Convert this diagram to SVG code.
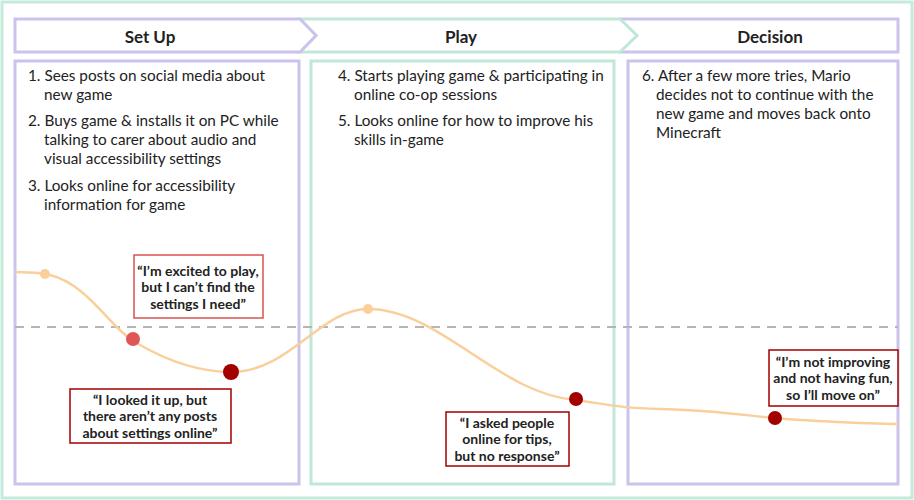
<svg xmlns="http://www.w3.org/2000/svg" width="914" height="500" viewBox="0 0 914 500">
<style>
text{font-family:Lato,"Liberation Sans",sans-serif;fill:#222}
.h{font-size:17px;font-weight:bold;text-anchor:middle}
.t{font-size:15.3px}
.q{font-size:14px;font-weight:bold;text-anchor:middle}
.pu{fill:#fff;stroke:#c9c3ee;stroke-width:3}
.gr{fill:#fff;stroke:#bfe8d8;stroke-width:3}
.qb{fill:#fff;stroke-width:1.5}
</style>
<rect x="0" y="0" width="914" height="500" fill="#fff"/>
<rect x="2" y="2" width="910" height="496" fill="none" stroke="#c3eadb" stroke-width="3"/>
<g id="hdr-decision"><rect class="pu" x="620" y="19" width="278" height="33"/><text class="h" x="770" y="43">Decision</text></g>
<g id="hdr-play"><polygon class="gr" points="300,19 620,19 637,35.5 620,52 300,52 316,35.5"/><text class="h" x="461" y="43">Play</text></g>
<g id="hdr-setup"><polygon class="pu" points="15,19 300,19 316,35.5 300,52 15,52"/><text class="h" x="150" y="43">Set Up</text></g>
<g id="col-setup"><rect class="pu" x="15" y="61" width="284" height="423"/>
<text class="t"><tspan x="28" y="81">1. Sees posts on social media about</tspan><tspan x="44" y="100">new game</tspan><tspan x="28" y="126">2. Buys game &amp; installs it on PC while</tspan><tspan x="44" y="145">talking to carer about audio and</tspan><tspan x="44" y="164">visual accessibility settings</tspan><tspan x="28" y="191">3. Looks online for accessibility</tspan><tspan x="44" y="210">information for game</tspan></text></g>
<g id="col-play"><rect class="gr" x="311" y="61" width="303" height="423"/>
<text class="t"><tspan x="338" y="81">4. Starts playing game &amp; participating in</tspan><tspan x="354" y="100">online co-op sessions</tspan><tspan x="338" y="126">5. Looks online for how to improve his</tspan><tspan x="354" y="145">skills in-game</tspan></text></g>
<g id="col-decision"><rect class="pu" x="628" y="61" width="270" height="423"/>
<text class="t"><tspan x="642" y="81">6. After a few more tries, Mario</tspan><tspan x="656" y="100">decides not to continue with the</tspan><tspan x="656" y="119">new game and moves back onto</tspan><tspan x="656" y="138">Minecraft</tspan></text></g>
<g id="connectors">
<line x1="15" y1="327" x2="898" y2="327" stroke="#b5b5b5" stroke-width="2" stroke-dasharray="9,7"/>
<path d="M15,272 C30,273 40,272 50,275 C90,285 110,330 140,345 C170,362 200,372 231,372 C290,372 320,309 368,309 C440,309 500,395 576,400 C610,405 620,408 660,409 C720,410 760,418 800,420 C840,422 870,424 898,424" fill="none" stroke="#f9cf9c" stroke-width="2.5"/>
</g>
<g id="dots">
<circle cx="45" cy="274" r="5" fill="#f9cf9c"/>
<circle cx="133" cy="339" r="7" fill="#e05555"/>
<circle cx="231" cy="372" r="8" fill="#a30000"/>
<circle cx="368" cy="309" r="5" fill="#f9cf9c"/>
<circle cx="576" cy="399" r="7" fill="#a30000"/>
<circle cx="775" cy="418" r="7" fill="#a30000"/>
</g>
<g id="q1"><rect class="qb" x="134" y="255" width="129" height="63" stroke="#d9534f"/><text class="q"><tspan x="198" y="276">“I’m excited to play,</tspan><tspan x="198" y="292">but I can’t find the</tspan><tspan x="198" y="309">settings I need”</tspan></text></g>
<g id="q2"><rect class="qb" x="70" y="389" width="161" height="54" stroke="#a30000"/><text class="q"><tspan x="150" y="405">“I looked it up, but</tspan><tspan x="150" y="421">there aren’t any posts</tspan><tspan x="150" y="438">about settings online”</tspan></text></g>
<g id="q3"><rect class="qb" x="446" y="412" width="123" height="54" stroke="#a30000"/><text class="q"><tspan x="507" y="428">“I asked people</tspan><tspan x="507" y="444">online for tips,</tspan><tspan x="507" y="461">but no response”</tspan></text></g>
<g id="q4"><rect class="qb" x="769" y="350" width="129" height="56" stroke="#a30000"/><text class="q"><tspan x="833" y="367">“I’m not improving</tspan><tspan x="833" y="383">and not having fun,</tspan><tspan x="833" y="400">so I’ll move on”</tspan></text></g>
</svg>
